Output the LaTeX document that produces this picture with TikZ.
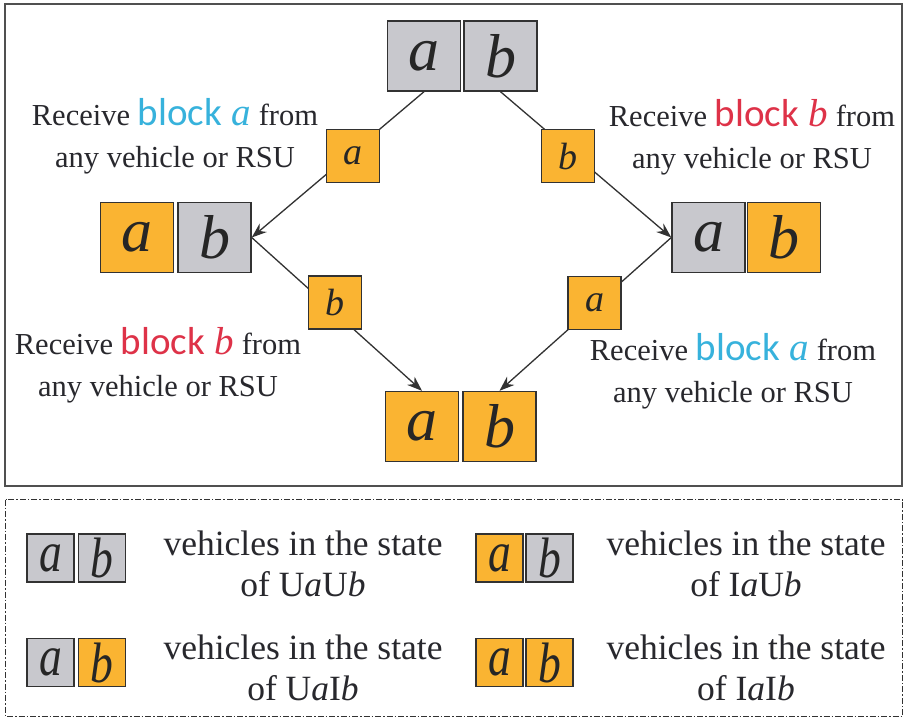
\documentclass[tikz,border=0pt]{standalone}
\usepackage{fontspec}
\usepackage{graphicx}
\setmainfont{Liberation Serif}
\newfontfamily\blockfont{Carlito}
\usetikzlibrary{arrows.meta}

\definecolor{edgecol}{RGB}{50,50,50}
\definecolor{textcol}{RGB}{40,40,45}
\definecolor{graycell}{RGB}{200,200,205}
\definecolor{orangecell}{RGB}{250,180,50}
\definecolor{blockblue}{RGB}{55,178,220}
\definecolor{blockred}{RGB}{222,50,72}
\definecolor{framecol}{RGB}{80,80,80}

% coloured "block x" phrase inside a caption
\newcommand{\recvblock}[2]{{\color{#1}\fontsize{39}{42}\selectfont{\blockfont block} {\rmfamily\itshape #2}}}
% narrow italic letter used in the legend keys
\newcommand{\keyletter}[1]{\scalebox{0.8}[1]{#1}}

\tikzset{
  cell/.style={draw=edgecol, line width=1.4pt, minimum width=73pt, minimum height=70pt,
    inner sep=0pt, text=black!85, font=\fontsize{62}{64}\selectfont\itshape},
  ucell/.style={cell, fill=graycell},
  icell/.style={cell, fill=orangecell},
  tag/.style={draw=edgecol, line width=1.4pt, fill=orangecell, minimum width=53pt,
    minimum height=53pt, inner sep=0pt, text=black!85, font=\fontsize{38}{40}\selectfont\itshape},
  key/.style={draw=edgecol, line width=1.4pt, minimum width=47pt, minimum height=48pt,
    inner sep=0pt, text=black!85, font=\fontsize{57}{58}\selectfont\itshape},
  ukey/.style={key, fill=graycell},
  ikey/.style={key, fill=orangecell},
  caption/.style={align=center, text=textcol, font=\fontsize{30.5}{42}\selectfont},
  legendtext/.style={align=center, text=textcol, font=\fontsize{35.5}{41}\selectfont},
  flow/.style={draw=edgecol, line width=1.3pt, -{Stealth[length=15pt,width=11pt]}}
}

\begin{document}
\begin{tikzpicture}[x=1pt,y=-1pt]
  \useasboundingbox (0,0) rectangle (905,721);
  \fill[white] (0,0) rectangle (905,721);

  % frames
  \draw[framecol, line width=2pt] (4.5,3.5) rectangle (902,486);
  \draw[edgecol, line width=1.3pt, dash pattern=on 6pt off 2pt on 1.5pt off 2pt]
    (5.5,499.5) rectangle (902.5,716.5);

  % vehicle states
  \node[ucell] (ta) at (424,56) {a};
  \node[ucell] (tb) at (500.5,56) {b};
  \node[icell] (la) at (137,237.5) {a};
  \node[ucell] (lb) at (214.5,237.5) {b};
  \node[ucell] (ra) at (708.5,237.5) {a};
  \node[icell] (rb) at (784,237.5) {b};
  \node[icell] (ba) at (422,426.5) {a};
  \node[icell] (bb) at (499.5,426.5) {b};

  % transitions
  \draw[flow] (ta.south) -- (lb.east);
  \draw[flow] (tb.south) -- (ra.west);
  \draw[flow] (lb.east) -- (ba.north);
  \draw[flow] (ra.west) -- (bb.north);

  % received blocks on the transitions
  \node[tag] (ga) at (353,156) {a};
  \node[tag] (gb) at (568,156) {b};
  \node[tag] (gc) at (335,302.5) {b};
  \node[tag] (gd) at (594.5,303) {a};

  % captions
  \node[caption] (c1) at (175,136) {Receive \recvblock{blockblue}{a} from\\any vehicle or RSU};
  \node[caption] (c2) at (752,137) {Receive \recvblock{blockred}{b} from\\any vehicle or RSU};
  \node[caption] (c3) at (158,365) {Receive \recvblock{blockred}{b} from\\any vehicle or RSU};
  \node[caption] (c4) at (733,371) {Receive \recvblock{blockblue}{a} from\\any vehicle or RSU};

  % legend
  \node[ukey] (k1a) at (50.5,558) {\keyletter{a}};
  \node[ukey] (k1b) at (102,558) {\keyletter{b}};
  \node[legendtext] (t1) at (303,564) {vehicles in the state\\of U\textit{a}U\textit{b}};

  \node[ikey] (k2a) at (499.5,558) {\keyletter{a}};
  \node[ukey] (k2b) at (549.5,558) {\keyletter{b}};
  \node[legendtext] (t2) at (746,564) {vehicles in the state\\of I\textit{a}U\textit{b}};

  \node[ukey] (k3a) at (50.5,662.5) {\keyletter{a}};
  \node[ikey] (k3b) at (102,662.5) {\keyletter{b}};
  \node[legendtext] (t3) at (303,668) {vehicles in the state\\of U\textit{a}I\textit{b}};

  \node[ikey] (k4a) at (499.5,662.5) {\keyletter{a}};
  \node[ikey] (k4b) at (549.5,662.5) {\keyletter{b}};
  \node[legendtext] (t4) at (746,668) {vehicles in the state\\of I\textit{a}I\textit{b}};
\end{tikzpicture}
\end{document}
